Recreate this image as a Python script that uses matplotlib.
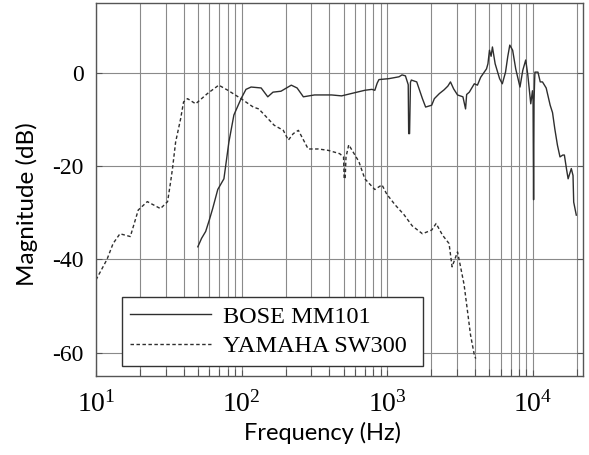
import numpy as np
import matplotlib
matplotlib.use("Agg")
import matplotlib.pyplot as plt
from matplotlib.ticker import LogLocator, FixedLocator, LogFormatterMathtext, NullFormatter

plt.rcParams['font.family'] = 'Liberation Serif'
plt.rcParams['mathtext.fontset'] = 'custom'
plt.rcParams['mathtext.rm'] = 'Liberation Serif'
plt.rcParams['mathtext.it'] = 'Liberation Serif:italic'
plt.rcParams['axes.unicode_minus'] = False

# Measured responses (frequency in Hz, magnitude in dB)
bose_freq = [50, 53, 56.6, 60, 63.2, 68.5, 75.5, 81.7, 88.4, 99, 107, 116, 136, 151, 164, 186,
             219, 240, 265, 316, 414, 485, 600, 700, 783, 820, 850, 875, 1025, 1202, 1260,
             1330, 1390, 1400, 1420, 1440, 1460, 1590, 1740, 1830, 2015, 2100, 2275, 2450,
             2600, 2710, 2850, 3030, 3300, 3440, 3500, 3650, 3950, 4150, 4370, 4790, 4900,
             5020, 5150, 5260, 5490, 5890, 6150, 6470, 6700, 6920, 7240, 7600, 8130, 8500,
             8900, 9200, 9640, 9900, 10000, 10080, 10150, 10250, 10300, 10800, 11200, 11600,
             12300, 13100, 13600, 14100, 14700, 15300, 16000, 16400, 17000, 17400, 18300,
             18800, 19000, 19800]
bose_db = [-37.3, -35.5, -34.0, -31.5, -29.1, -25.0, -22.7, -14.8, -9.0, -5.5, -3.5, -3.0,
           -3.2, -5.1, -4.1, -3.9, -2.6, -3.2, -5.1, -4.7, -4.7, -4.9, -4.2, -3.7, -3.5, -3.7,
           -2.2, -1.4, -1.2, -0.8, -0.4, -0.6, -2.5, -13.0, -13.0, -2.0, -1.5, -1.9, -5.5,
           -7.3, -6.9, -5.5, -4.4, -3.6, -2.8, -1.9, -3.4, -4.7, -5.1, -7.7, -4.6, -4.1, -2.3,
           -2.6, -0.9, 0.9, 2.0, 4.9, 3.6, 5.6, 2.0, -1.2, -2.3, 0.2, 3.5, 6.0, 4.9, 0.9,
           -3.0, 0.6, 2.8, -0.4, -6.6, -3.8, -6.0, -27.2, -6.2, -1.5, 0.2, 0.2, -1.9, -1.9,
           -3.2, -6.9, -8.5, -12.0, -15.5, -18.0, -17.6, -17.6, -20.8, -22.7, -20.5, -22.0,
           -27.7, -30.5]

yamaha_freq = [10, 11.9, 13.1, 14.6, 17.2, 19.5, 22.5, 27.7, 31, 32.5, 33.5, 35.2, 38.1, 39.9,
               42.5, 48.3, 58.2, 69.6, 80.4, 99, 120, 131, 167, 193, 209, 226, 245, 286, 336,
               393, 470, 500, 505, 513, 520, 543, 637, 700, 820, 918, 990, 1130, 1300, 1480,
               1740, 2015, 2160, 2390, 2650, 2780, 3030, 3160, 3360, 3550, 3720, 3950, 4040]
yamaha_db = [-44.4, -40.0, -36.6, -34.5, -35.1, -29.4, -27.6, -29.1, -27.6, -23.4, -20.5,
             -14.8, -9.8, -6.2, -5.5, -6.6, -4.4, -2.6, -3.7, -5.5, -7.3, -7.7, -11.2, -12.3,
             -14.4, -13.0, -12.3, -16.3, -16.3, -16.6, -17.3, -18.0, -22.7, -22.7, -18.0,
             -15.4, -19.0, -22.7, -25.0, -24.0, -26.0, -28.3, -30.4, -32.8, -34.5, -33.7,
             -32.3, -34.8, -36.6, -41.6, -38.4, -41.2, -45.4, -51.2, -56.2, -60.5, -61.3]

series_labels = ["BOSE MM101", "YAMAHA SW300"]
y_ticks = [0, -20, -40, -60]

fig = plt.figure(figsize=(5.89, 4.55), dpi=100)
ax = fig.add_axes([0.163, 0.174, 0.827, 0.819])

ax.semilogx(bose_freq, bose_db, color='#2e2e2e', lw=1.0, ls='-', label=series_labels[0])
ax.semilogx(yamaha_freq, yamaha_db, color='#2e2e2e', lw=1.0, ls=(0, (2.5, 1.8)),
            label=series_labels[1])

ax.set_xlim(10, 22050)
ax.set_ylim(-65, 15)

ax.xaxis.set_major_locator(LogLocator(base=10, numticks=10))
ax.xaxis.set_minor_locator(LogLocator(base=10, subs=np.arange(2, 10), numticks=20))
ax.xaxis.set_major_formatter(LogFormatterMathtext())
ax.xaxis.set_minor_formatter(NullFormatter())
ax.yaxis.set_major_locator(FixedLocator(y_ticks))

ax.grid(True, which='both', axis='x', color='#8a8a8a', lw=0.8)
ax.grid(True, which='major', axis='y', color='#8a8a8a', lw=0.8)

ax.tick_params(which='both', direction='in', top=False, right=True, color='#555555')
ax.tick_params(which='major', length=4, width=0.8)
ax.tick_params(which='minor', length=5, width=0.8)
ax.tick_params(axis='x', labelsize=20, pad=11)
ax.tick_params(axis='y', labelsize=17, pad=9)

for s in ax.spines.values():
    s.set_color('#555555')
    s.set_linewidth(1.0)

ax.set_xlabel("Frequency (Hz)", fontfamily='Lato', fontsize=17)
ax.set_ylabel("Magnitude (dB)", fontfamily='Lato', fontsize=17.5)
ax.xaxis.set_label_coords(0.464, -0.124)
ax.yaxis.set_label_coords(-0.12, 0.461)

leg = ax.legend(loc='lower left', bbox_to_anchor=(0.053, 0.027, 0.618, 0.22), mode='expand',
                prop={'family': 'Liberation Serif', 'size': 17.5}, frameon=True, fancybox=False,
                handlelength=3.3, borderpad=0.35, labelspacing=0.3, handletextpad=0.5,
                borderaxespad=0)
leg.get_frame().set_edgecolor('#333333')
leg.get_frame().set_linewidth(1.0)
leg.get_frame().set_alpha(1)

fig.savefig("out.png", dpi=100)
